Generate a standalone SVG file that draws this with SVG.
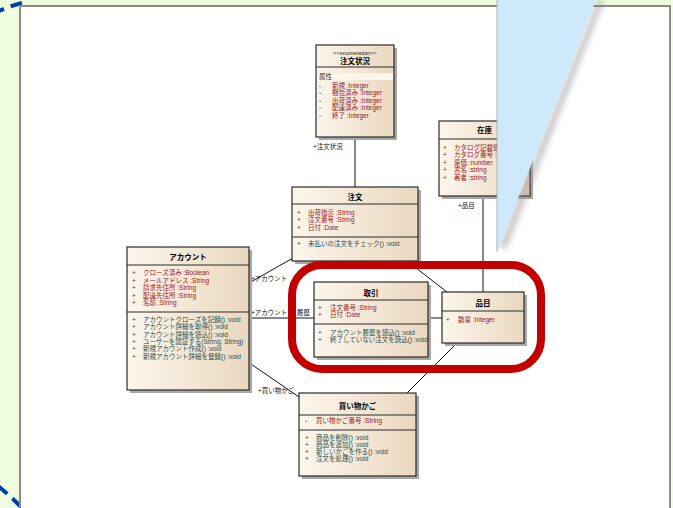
<svg xmlns="http://www.w3.org/2000/svg" width="673" height="508" viewBox="0 0 673 508">
<defs>
<linearGradient id="nodeGrad" x1="0" y1="0" x2="1" y2="0">
<stop offset="0" stop-color="#fcf6ec"/>
<stop offset="1" stop-color="#ead8bf"/>
</linearGradient>
<filter id="blur" x="-20%" y="-20%" width="140%" height="140%"><feGaussianBlur stdDeviation="3"/></filter>
<style>
.node-box{fill:url(#nodeGrad);stroke:#2b2b2b;stroke-width:1.2}
.shadow{fill:#a8a8a8}
.sep{stroke:#2b2b2b;stroke-width:1}
.title{font-family:"Liberation Sans","Noto Sans CJK JP",sans-serif;font-size:7.5px;font-weight:bold;fill:#000;text-anchor:middle}
.stereo{font-family:"Liberation Sans","Noto Sans CJK JP",sans-serif;font-size:5.5px;fill:#222;text-anchor:middle}
.attr{font-family:"Liberation Sans","Noto Sans CJK JP",sans-serif;font-size:6.5px;fill:#9b2020}
.op{font-family:"Liberation Sans","Noto Sans CJK JP",sans-serif;font-size:6.5px;fill:#1e4e4e}
.lbl{font-family:"Liberation Sans","Noto Sans CJK JP",sans-serif;font-size:6.5px;fill:#111}
.conn{stroke:#111;stroke-width:1;fill:none}
</style>
</defs>
<rect x="0" y="0" width="673" height="508" fill="#effdde"/>
<path d="M 22 3 Q 5 7 -20 20 L -40 460 Q -5 480 22 508" fill="none" stroke="#0041a8" stroke-width="4" stroke-dasharray="12 7"/>
<rect x="20" y="6" width="650" height="520" fill="#ffffff" stroke="#8a8a8a" stroke-width="2"/>

<g id="connectors">
<line class="conn" x1="355" y1="137" x2="355" y2="187"/>
<line class="conn" x1="483" y1="196" x2="483" y2="292"/>
<line class="conn" x1="249" y1="283" x2="293" y2="258"/>
<line class="conn" x1="249" y1="318" x2="314" y2="318"/>
<line class="conn" x1="407" y1="261" x2="447" y2="292"/>
<line class="conn" x1="428" y1="318" x2="442" y2="318"/>
<line class="conn" x1="456" y1="344" x2="407" y2="393"/>
<line class="conn" x1="248" y1="362" x2="299" y2="397"/>
<text class="lbl" x="313" y="149">+注文状況</text>
<text class="lbl" x="458" y="208">+品目</text>
<text class="lbl" x="251" y="281">+アカウント</text>
<text class="lbl" x="251" y="315">+アカウント</text>
<text class="lbl" x="297" y="315">履歴</text>
<text class="lbl" x="258" y="393">+買い物かご</text>
</g>

<g id="node-status">
<rect class="shadow" x="319" y="48" width="78" height="92"/>
<rect class="node-box" x="316" y="45" width="78" height="92"/>
<line class="sep" x1="316" y1="67" x2="394" y2="67"/>
<rect x="317" y="73" width="76" height="7" fill="#fdf5e8"/>
<text class="stereo" x="355" y="55">&lt;&lt;enumeration&gt;&gt;</text>
<text class="title" x="355" y="64">注文状況</text>
<text class="attr" x="319" y="79" style="fill:#333">属性</text>
<text class="attr" x="319" y="88">-</text><text class="attr" x="332" y="88">新規 :Integer</text>
<text class="attr" x="319" y="95">-</text><text class="attr" x="332" y="95">梱包済み :Integer</text>
<text class="attr" x="319" y="102.5">-</text><text class="attr" x="332" y="102.5">出荷済み :Integer</text>
<text class="attr" x="319" y="110">-</text><text class="attr" x="332" y="110">配達済み :Integer</text>
<text class="attr" x="319" y="118">-</text><text class="attr" x="332" y="118">終了 :Integer</text>
</g>

<g id="node-stock">
<rect class="shadow" x="442" y="124" width="91" height="75"/>
<rect class="node-box" x="439" y="121" width="91" height="75"/>
<line class="sep" x1="439" y1="139" x2="530" y2="139"/>
<text class="title" x="484.5" y="133">在庫</text>
<text class="attr" x="443" y="149.5">+</text><text class="attr" x="454" y="149.5">カタログ記載価格 :number</text>
<text class="attr" x="443" y="157">+</text><text class="attr" x="454" y="157">カタログ番号 :string</text>
<text class="attr" x="443" y="164.5">+</text><text class="attr" x="454" y="164.5">原価 :number</text>
<text class="attr" x="443" y="172">+</text><text class="attr" x="454" y="172">書名 :string</text>
<text class="attr" x="443" y="179.5">+</text><text class="attr" x="454" y="179.5">著者 :string</text>
</g>

<g id="node-order">
<rect class="shadow" x="295" y="190" width="126" height="74"/>
<rect class="node-box" x="292" y="187" width="126" height="74"/>
<line class="sep" x1="292" y1="204" x2="418" y2="204"/>
<line class="sep" x1="292" y1="237" x2="418" y2="237"/>
<text class="title" x="355" y="199.5">注文</text>
<text class="attr" x="297" y="215">+</text><text class="attr" x="308" y="215">出荷指示 :String</text>
<text class="attr" x="297" y="222">+</text><text class="attr" x="308" y="222">注文番号 :String</text>
<text class="attr" x="297" y="229.5">+</text><text class="attr" x="308" y="229.5">日付 :Date</text>
<text class="op" x="297" y="245.5">+</text><text class="op" x="308" y="245.5">未払いの注文をチェック() :void</text>
</g>

<g id="node-account">
<rect class="shadow" x="130" y="250" width="122" height="143"/>
<rect class="node-box" x="127" y="247" width="122" height="143"/>
<line class="sep" x1="127" y1="265" x2="249" y2="265"/>
<line class="sep" x1="127" y1="312" x2="249" y2="312"/>
<text class="title" x="188" y="259.5">アカウント</text>
<text class="attr" x="132" y="275">+</text><text class="attr" x="143" y="275">クローズ済み :Boolean</text>
<text class="attr" x="132" y="282.5">+</text><text class="attr" x="143" y="282.5">メールアドレス :String</text>
<text class="attr" x="132" y="290">+</text><text class="attr" x="143" y="290">請求先住所 :String</text>
<text class="attr" x="132" y="297.5">+</text><text class="attr" x="143" y="297.5">配達先住所 :String</text>
<text class="attr" x="132" y="304.5">+</text><text class="attr" x="143" y="304.5">名前 :String</text>
<text class="op" x="132" y="321.5">+</text><text class="op" x="143" y="321.5">アカウントクローズを記録() :void</text>
<text class="op" x="132" y="329">+</text><text class="op" x="143" y="329">アカウント詳細を取得() :void</text>
<text class="op" x="132" y="336.5">+</text><text class="op" x="143" y="336.5">アカウント詳細を読込() :void</text>
<text class="op" x="132" y="343.5">+</text><text class="op" x="143" y="343.5">ユーザーを認証する(String, String)</text>
<text class="op" x="132" y="351">+</text><text class="op" x="143" y="351">新規アカウント作成() :void</text>
<text class="op" x="132" y="358.5">+</text><text class="op" x="143" y="358.5">新規アカウント詳細を登録() :void</text>
</g>

<g id="node-transaction">
<rect class="shadow" x="317" y="285" width="114" height="75"/>
<rect class="node-box" x="314" y="282" width="114" height="75"/>
<line class="sep" x1="314" y1="300" x2="428" y2="300"/>
<line class="sep" x1="314" y1="324" x2="428" y2="324"/>
<text class="title" x="371" y="295.5">取引</text>
<text class="attr" x="318" y="309.5">+</text><text class="attr" x="330" y="309.5">注文番号 :String</text>
<text class="attr" x="318" y="317">+</text><text class="attr" x="330" y="317">日付 :Date</text>
<text class="op" x="318" y="334.5">+</text><text class="op" x="330" y="334.5">アカウント履歴を読込() :void</text>
<text class="op" x="318" y="342">+</text><text class="op" x="330" y="342">終了していない注文を読込() :void</text>
</g>

<g id="node-item">
<rect class="shadow" x="445" y="295" width="82" height="51"/>
<rect class="node-box" x="442" y="292" width="82" height="51"/>
<line class="sep" x1="442" y1="311" x2="524" y2="311"/>
<text class="title" x="483" y="305.5">品目</text>
<text class="attr" x="446" y="321.5">+</text><text class="attr" x="458" y="321.5">数量 :Integer</text>
</g>

<g id="node-cart">
<rect class="shadow" x="302" y="396" width="117" height="83"/>
<rect class="node-box" x="299" y="393" width="117" height="83"/>
<line class="sep" x1="299" y1="415" x2="416" y2="415"/>
<line class="sep" x1="299" y1="430" x2="416" y2="430"/>
<text class="title" x="357.5" y="408.5">買い物かご</text>
<text class="attr" x="305" y="422.5">-</text><text class="attr" x="316" y="422.5">買い物かご番号 :String</text>
<text class="op" x="305" y="439.5">+</text><text class="op" x="316" y="439.5">商品を削除() :void</text>
<text class="op" x="305" y="446.5">+</text><text class="op" x="316" y="446.5">商品を追加() :void</text>
<text class="op" x="305" y="453.5">+</text><text class="op" x="316" y="453.5">新しいかごを作る() :void</text>
<text class="op" x="305" y="461">+</text><text class="op" x="316" y="461">注文を処理() :void</text>
</g>

<rect id="highlight" x="292" y="265" width="249" height="104" rx="30" ry="30" fill="none" stroke="#c20000" stroke-width="8"/>

<g id="callout">
<polygon points="598,0 604,0 506,248 499,248" fill="#888" filter="url(#blur)" opacity="0.55"/>
<polygon points="497,0 596,0 497,252" fill="#cde9fb"/>
<line x1="497" y1="0" x2="497" y2="252" stroke="#9aa8b0" stroke-width="0.8"/>
</g>
</svg>
